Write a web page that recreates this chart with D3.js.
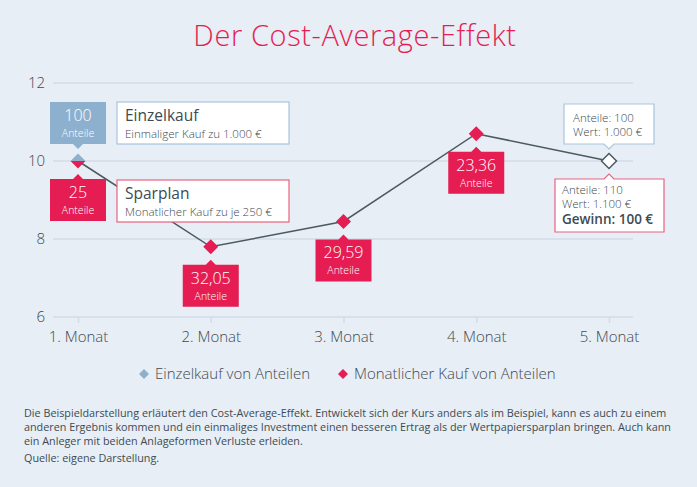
<!DOCTYPE html>
<html>
<head>
<meta charset="utf-8">
<script src="https://cdn.jsdelivr.net/npm/d3@7"></script>
<style>
  body { margin: 0; background: #e7eef5; }
  svg { display: block; font-family: "Open Sans", sans-serif; }
</style>
</head>
<body>
<svg width="697" height="487"></svg>
<script>
const months = ['1. Monat', '2. Monat', '3. Monat', '4. Monat', '5. Monat'];
// Kurs je Monat (250 € / Anteile)
const prices = [10, 7.80, 8.45, 10.70, 10];
const shares = ['25', '32,05', '29,59', '23,36'];
const singlePrice = [10];
const yTicks = [6, 8, 10, 12];

const red = '#e51d52';
const blue = '#8eb0cf';
const dark = '#3e4a52';

const svg = d3.select('svg');
const width = +svg.attr('width');

svg.append('rect').attr('width', width).attr('height', 487).attr('fill', '#e7eef5');

svg.append('text')
    .attr('x', 355)
    .attr('y', 46)
    .attr('text-anchor', 'middle')
    .attr('fill', red)
    .attr('font-size', 29)
    .attr('font-weight', 300)
    .attr('letter-spacing', 0.6)
    .text('Der Cost-Average-Effekt');

const x = d3.scalePoint().domain(months).range([78, 609]);
const y = d3.scaleLinear().domain([6, 12]).range([317, 83]);

// gridlines
svg.append('g')
  .selectAll('line')
  .data(yTicks)
  .join('line')
    .attr('x1', 53)
    .attr('x2', 633)
    .attr('y1', d => y(d))
    .attr('y2', d => y(d))
    .attr('stroke', '#d3dde7')
    .attr('stroke-width', 1.5);

svg.append('g')
  .selectAll('text')
  .data(yTicks)
  .join('text')
    .attr('x', 45)
    .attr('y', d => y(d) + 5)
    .attr('text-anchor', 'end')
    .attr('fill', dark)
    .attr('font-size', 15)
    .attr('font-weight', 300)
    .text(d => d);

// x axis
const xAxis = svg.append('g')
    .attr('transform', `translate(0, ${y(6)})`)
    .call(d3.axisBottom(x).tickSize(6).tickPadding(8));
xAxis.select('.domain').remove();
xAxis.selectAll('.tick line').attr('stroke', '#d3dde7').attr('stroke-width', 1.5);
xAxis.selectAll('.tick text')
    .attr('fill', dark)
    .attr('font-size', 15)
    .attr('font-weight', 300)
    .attr('font-family', '"Open Sans", sans-serif');

// line
const line = d3.line()
    .x((d, i) => x(months[i]))
    .y(d => y(d));

svg.append('path')
    .datum(prices)
    .attr('d', line)
    .attr('fill', 'none')
    .attr('stroke', '#4b5961')
    .attr('stroke-width', 1.5);

function boxPath(x0, y0, w, h, cx, side) {
  const n = 5;
  if (side === 'top') {
    return `M${x0},${y0}H${cx - n}L${cx},${y0 - n}L${cx + n},${y0}H${x0 + w}V${y0 + h}H${x0}Z`;
  }
  return `M${x0},${y0}H${x0 + w}V${y0 + h}H${cx + n}L${cx},${y0 + h + n}L${cx - n},${y0 + h}H${x0}Z`;
}

const diamond = (cx, cy, r) => `M${cx},${cy - r}L${cx + r},${cy}L${cx},${cy + r}L${cx - r},${cy}Z`;

// Einzelkauf marker (upper half blue)
singlePrice.forEach((p, i) => {
  const cx = x(months[i]), cy = y(p), r = 7.5;
  svg.append('path')
      .attr('d', `M${cx - r},${cy}L${cx},${cy - r}L${cx + r},${cy}Z`)
      .attr('fill', blue);
  svg.append('path')
      .attr('d', boxPath(cx - 28, cy - 59, 56, 42, cx, 'bottom'))
      .attr('fill', blue);
  svg.append('text')
      .attr('x', cx).attr('y', cy - 40)
      .attr('text-anchor', 'middle').attr('fill', '#fff')
      .attr('font-size', 16).attr('font-weight', 300)
      .text('100');
  svg.append('text')
      .attr('x', cx).attr('y', cy - 24)
      .attr('text-anchor', 'middle').attr('fill', '#fff')
      .attr('font-size', 10.5).attr('font-weight', 300)
      .text('Anteile');
});

// Sparplan markers and labels
prices.slice(0, 4).forEach((p, i) => {
  const cx = x(months[i]), cy = y(p), r = 7.5;
  if (i === 0) {
    svg.append('path')
        .attr('d', `M${cx - r},${cy}L${cx + r},${cy}L${cx},${cy + r}Z`)
        .attr('fill', red);
  } else {
    svg.append('path').attr('d', diamond(cx, cy, r)).attr('fill', red);
  }
  const top = cy + 18;
  svg.append('path')
      .attr('d', boxPath(cx - 28, top, 56, 42, cx, 'top'))
      .attr('fill', red);
  svg.append('text')
      .attr('x', cx).attr('y', top + 19)
      .attr('text-anchor', 'middle').attr('fill', '#fff')
      .attr('font-size', 16).attr('font-weight', 300)
      .text(shares[i]);
  svg.append('text')
      .attr('x', cx).attr('y', top + 35)
      .attr('text-anchor', 'middle').attr('fill', '#fff')
      .attr('font-size', 10.5).attr('font-weight', 300)
      .text('Anteile');
});

// final point
const lx = x(months[4]), ly = y(prices[4]);
svg.append('path')
    .attr('d', diamond(lx, ly, 7.5))
    .attr('fill', '#fff')
    .attr('stroke', '#4b5961')
    .attr('stroke-width', 1.5);

svg.append('path')
    .attr('d', boxPath(lx - 45, ly - 57, 90, 40, lx, 'bottom'))
    .attr('fill', '#fff').attr('stroke', '#a9c4de').attr('stroke-width', 1.2);
[['Anteile: 100', ly - 39], ['Wert: 1.000 €', ly - 25]].forEach(([t, ty]) => {
  svg.append('text')
      .attr('x', lx - 36).attr('y', ty)
      .attr('fill', dark).attr('font-size', 11.5).attr('font-weight', 300)
      .text(t);
});

svg.append('path')
    .attr('d', boxPath(lx - 54, ly + 18, 109, 53, lx, 'top'))
    .attr('fill', '#fff').attr('stroke', '#e8637f').attr('stroke-width', 1.2);
[['Anteile: 110', ly + 33, 11.5, 300], ['Wert: 1.100 €', ly + 47, 11.5, 300], ['Gewinn: 100 €', ly + 63, 13.5, 600]]
  .forEach(([t, ty, fs, fw]) => {
    svg.append('text')
        .attr('x', lx - 47).attr('y', ty)
        .attr('fill', dark).attr('font-size', fs).attr('font-weight', fw)
        .text(t);
  });

// annotation boxes
const notes = [
  { title: 'Einzelkauf', sub: 'Einmaliger Kauf zu 1.000 €', top: 102, stroke: '#a9c4de' },
  { title: 'Sparplan', sub: 'Monatlicher Kauf zu je 250 €', top: 180, stroke: '#e8637f' }
];
notes.forEach(n => {
  svg.append('rect')
      .attr('x', 117).attr('y', n.top)
      .attr('width', 172).attr('height', 42)
      .attr('fill', '#fff').attr('stroke', n.stroke).attr('stroke-width', 1.2);
  svg.append('text')
      .attr('x', 125).attr('y', n.top + 19)
      .attr('fill', dark).attr('font-size', 15.5)
      .text(n.title);
  svg.append('text')
      .attr('x', 125).attr('y', n.top + 36)
      .attr('fill', dark).attr('font-size', 11.5).attr('font-weight', 300)
      .text(n.sub);
});

// legend
const legend = [
  { label: 'Einzelkauf von Anteilen', color: blue, x: 144 },
  { label: 'Monatlicher Kauf von Anteilen', color: red, x: 343 }
];
legend.forEach(l => {
  svg.append('path').attr('d', diamond(l.x, 374, 5)).attr('fill', l.color);
  svg.append('text')
      .attr('x', l.x + 11).attr('y', 379)
      .attr('fill', dark).attr('font-size', 15).attr('font-weight', 300)
      .text(l.label);
});

// footnote
const foot = [
  'Die Beispieldarstellung erläutert den Cost-Average-Effekt. Entwickelt sich der Kurs anders als im Beispiel, kann es auch zu einem',
  'anderen Ergebnis kommen und ein einmaliges Investment einen besseren Ertrag als der Wertpapiersparplan bringen. Auch kann',
  'ein Anleger mit beiden Anlageformen Verluste erleiden.'
];
foot.forEach((t, i) => {
  svg.append('text')
      .attr('x', 24).attr('y', 417 + i * 14)
      .attr('fill', dark).attr('font-size', 10.8)
      .text(t);
});
svg.append('text')
    .attr('x', 24).attr('y', 462)
    .attr('fill', dark).attr('font-size', 10.8)
    .text('Quelle: eigene Darstellung.');
</script>
</body>
</html>
